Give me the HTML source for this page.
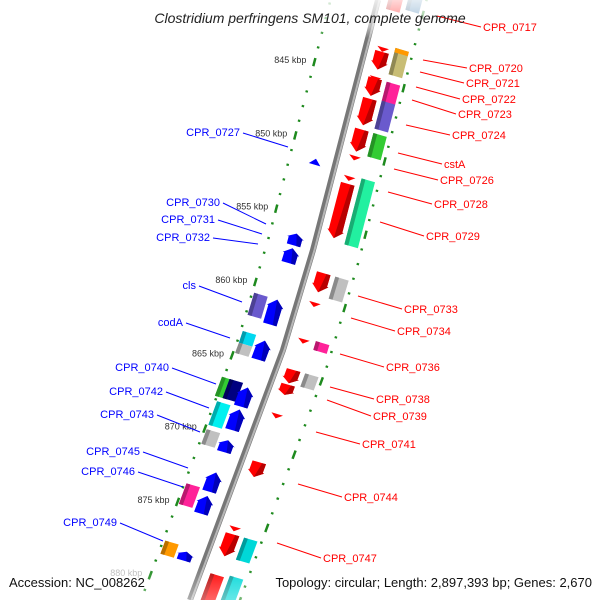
<!DOCTYPE html>
<html><head><meta charset="utf-8"><style>
html,body{margin:0;padding:0;background:#fff;overflow:hidden}
svg{display:block;font-family:"Liberation Sans","DejaVu Sans",sans-serif}
</style></head><body>
<svg id="map" width="600" height="600" viewBox="0 0 600 600">
<defs>
<linearGradient id="fadeTop" x1="0" y1="0" x2="0" y2="1"><stop offset="0" stop-color="#fff" stop-opacity="0.85"/><stop offset="0.7" stop-color="#fff" stop-opacity="0.5"/><stop offset="1" stop-color="#fff" stop-opacity="0"/></linearGradient>
<linearGradient id="fadeBot" x1="0" y1="0" x2="0" y2="1"><stop offset="0" stop-color="#fff" stop-opacity="0"/><stop offset="1" stop-color="#fff" stop-opacity="0.4"/></linearGradient>
<clipPath id="frame"><rect x="0" y="0" width="600" height="600"/></clipPath>
</defs>
<g clip-path="url(#frame)">
<g id="ticks"></g>
<g id="bb"></g>
<g id="genes"></g>
<rect x="0" y="0" width="600" height="38" fill="url(#fadeTop)"/>
<rect x="0" y="565" width="600" height="35" fill="url(#fadeBot)"/>
<g id="labels"></g>
</g>
<text x="310" y="23" text-anchor="middle" font-size="14" font-style="italic" fill="#222">Clostridium perfringens SM101, complete genome</text>
<text x="9" y="587" font-size="13" fill="#111">Accession: NC_008262</text>
<text x="592" y="587" text-anchor="end" font-size="13" fill="#111">Topology: circular; Length: 2,897,393 bp; Genes: 2,670</text>
</svg>
<script>
// ---- data ----
const tickKbp = [840, 845, 850, 855, 860, 865, 870, 875, 880];
const geneStart = [838.8,838.5,842.8,843.1,842.6,844.8,844.9,844.9,846.3,846.2,848.4,848.4,850.2,851.6,852.1,851.5,858.2,858.2,860.2,862.7,862.6,864.8,865.8,864.8,867.8,871.1,875.5,876.0,876.0,878.8,878.6,
  851.1,856.2,857.2,860.7,860.7,863.3,864.1,863.5,866.5,866.5,866.7,868.1,868.2,870.0,870.3,872.5,873.7,874.1,877.6,877.9];
const geneEnd = [840.3,840.0,843.1,844.3,844.4,845.1,846.1,846.3,848.1,848.1,849.9,850.0,850.5,851.9,855.8,856.0,859.5,859.7,860.5,863.0,863.2,865.7,866.5,865.7,868.1,872.1,875.8,877.5,877.5,880.8,880.7,
  851.5,857.0,858.2,862.2,862.4,864.1,864.8,864.8,867.8,867.8,868.0,869.7,869.6,871.0,871.1,873.8,875.1,875.3,878.5,878.5];
const geneLane = [17,36,17,17,36,17,17,36,17,36,17,36,17,17,17,36,17,36,17,17,36,17,17,36,17,17,17,17,36,17,36,
  -20,-20,-20,-37,-20,-37,-37,-20,-41,-33,-20,-37,-20,-37,-20,-20,-37,-20,-37,-20];
const geneShape = ["box","box","tri","arrow","box","tri","arrow","box","arrow","box","arrow","box","tri","tri","arrow","box","arrow","box","tri","tri","box","arrow","arrow","box","tri","arrow","tri","arrow","box","box","box",
  "tri","arrow","arrow","box","arrow","box","box","arrow","box","box","arrow","box","arrow","box","arrow","arrow","box","arrow","box","arrow"];
const geneColor = ["#ff0000","#4682b4","#ff0000","#ff0000","#c8bd75","#ff0000","#ff0000","#ff2299","#ff0000","#6a5acd","#ff0000","#33cc33","#ff0000","#ff0000","#ff0000","#22f0a0","#ff0000","#c0c0c0","#ff0000","#ff0000","#ff2299","#ff0000","#ff0000","#c0c0c0","#ff0000","#ff0000","#ff0000","#ff0000","#00d8d8","#ff0000","#00d8d8",
  "#0000ff","#0000ff","#0000ff","#6a5acd","#0000ff","#00d8f0","#c0c0c0","#0000ff","#33cc33","#000080","#0000ff","#00f0f0","#0000ff","#c0c0c0","#0000ff","#0000ff","#ff2299","#0000ff","#ff9900","#0000ff"];
const rightNames = ["CPR_0717","CPR_0720","CPR_0721","CPR_0722","CPR_0723","CPR_0724","cstA","CPR_0726","CPR_0728","CPR_0729","CPR_0733","CPR_0734","CPR_0736","CPR_0738","CPR_0739","CPR_0741","CPR_0744","CPR_0747"];
const rightLabelY = [31,72,87,103,118,139,168,184,208,240,313,335,371,403,420,448,501,562];
const rightLineStart = [[437,16],[423,60],[420,72],[416,87],[412,100],[406,125],[398,153],[394,169],[388,192],[380,222],[358,296],[351,318],[340,354],[330,387],[327,400],[316,432],[298,484],[277,543]];
const leftNames = ["CPR_0727","CPR_0730","CPR_0731","CPR_0732","cls","codA","CPR_0740","CPR_0742","CPR_0743","CPR_0745","CPR_0746","CPR_0749"];
const leftLabelX = [240,220,215,210,196,183,169,163,154,140,135,117];
const leftLabelY = [136,206,223,241,289,326,371,395,418,455,475,526];
const leftLineEnd = [[288,147],[266,224],[262,234],[258,244],[242,302],[230,338],[216,384],[209,408],[200,432],[188,468],[183,487],[163,541]];

// ---- geometry ----
const NS = "http://www.w3.org/2000/svg";
const bbPts = [[378,0],[313,250],[283,350],[190,600]];
function bx(y){
  for(let i=0;i<bbPts.length-1;i++){
    const a=bbPts[i],b=bbPts[i+1];
    if(y<=b[1]||i===bbPts.length-2){const t=(y-a[1])/(b[1]-a[1]);return a[0]+t*(b[0]-a[0]);}
  }
}
function yOf(k){return 75+(k-845)*14.66;}
const N=[0.96,0.28];
function pt(k,u){const y0=yOf(k);return [bx(y0)+u*N[0],y0+u*N[1]];}
function P(arr){return arr.map(p=>p[0].toFixed(1)+","+p[1].toFixed(1)).join(" ");}
function mk(tag,attrs,parent){const e=document.createElementNS(NS,tag);for(const k in attrs)e.setAttribute(k,attrs[k]);parent.appendChild(e);return e;}
function shade(c){
  const n=parseInt(c.slice(1),16);let r=n>>16,g=(n>>8)&255,b=n&255;
  return "rgb("+Math.round(r*0.72)+","+Math.round(g*0.72)+","+Math.round(b*0.72)+")";
}

// backbone
const bb=document.getElementById("bb");
const bbLine=mk("polyline",{points:P(bbPts),fill:"none",stroke:"#777","stroke-width":6},bb);


const bbHi=mk("polyline",{points:P(bbPts.map(p=>[p[0]+1.5,p[1]])),fill:"none",stroke:"#b8b8b8","stroke-width":2},bb);



// ticks
const tg=document.getElementById("ticks");
for(let k=837;k<=881;k++){
  [-46,47].forEach(u=>{
    const five=(k%5===0);
    const a=pt(k-(five?0.28:0.07),u),b=pt(k+(five?0.28:0.07),u);
    const d=mk("line",{x1:a[0],y1:a[1],x2:b[0],y2:b[1],stroke:"#1e8a1e","stroke-width":2.5},tg);
    
    
  });
}
tickKbp.forEach(k=>{
  const p=pt(k,-46);
  if(p[1]<30)return;
  const t=mk("text",{x:p[0]-8,y:p[1]+1,"text-anchor":"end","font-size":9,fill:(k>=880)?"#bbb":"#333"},tg);
  t.textContent=k+" kbp";
  
  
});

// genes
const gg=document.getElementById("genes");
for(let i=0;i<geneStart.length;i++){
  const k1=geneStart[i],k2=geneEnd[i],u=geneLane[i],c=geneColor[i],s=geneShape[i];
  const fwd=u>0; const w=s==="tri"?12:14; const hw=w/2;
  const g=mk("g",{},gg);
  
  
  let poly,side;
  if(s==="box"){
    poly=[pt(k1,u-hw),pt(k1,u+hw),pt(k2,u+hw),pt(k2,u-hw)];
    side=[pt(k1,u-hw),pt(k1,u-hw+4),pt(k2,u-hw+4),pt(k2,u-hw)];
  } else if(s==="tri"){
    if(fwd){poly=[pt(k1,u-hw),pt(k1,u+hw),pt(k2,u)];}
    else{poly=[pt(k2,u-hw),pt(k2,u+hw),pt(k1,u)];}
    side=null;
  } else {
    const hl=Math.min(0.5,(k2-k1)*0.4);const hh=hw+1.5;
    if(fwd){
      poly=[pt(k1,u-hw),pt(k1,u+hw),pt(k2-hl,u+hw),pt(k2-hl,u+hh),pt(k2,u),pt(k2-hl,u-hh),pt(k2-hl,u-hw)];
      side=[pt(k1,u+hw-4),pt(k1,u+hw),pt(k2-hl,u+hw),pt(k2-hl,u+hh),pt(k2,u)];
    } else {
      poly=[pt(k2,u-hw),pt(k2,u+hw),pt(k1+hl,u+hw),pt(k1+hl,u+hh),pt(k1,u),pt(k1+hl,u-hh),pt(k1+hl,u-hw)];
      side=[pt(k2,u+hw-4),pt(k2,u+hw),pt(k1+hl,u+hw),pt(k1+hl,u+hh),pt(k1,u)];
    }
  }
  const m=mk("polygon",{points:P(poly),fill:c},g);
  
  
  if(side){
    const sd=mk("polygon",{points:P(side),fill:shade(c)},g);
    
    
  }
  if(i===4){
    const cap=mk("polygon",{points:P([pt(k1,u-hw),pt(k1,u+hw),pt(k1+0.3,u+hw),pt(k1+0.3,u-hw)]),fill:"#ff9900"},g);
    
    
  }
}

// labels
const lg=document.getElementById("labels");
rightNames.forEach((n,i)=>{
  const s=rightLineStart[i],ty=rightLabelY[i],tx=s[0]+46;
  const l=mk("line",{x1:s[0],y1:s[1],x2:tx-2,y2:ty-4,stroke:"#ff0000","stroke-width":1},lg);
  
  
  const t=mk("text",{x:tx,y:ty,"font-size":11,fill:"#ff0000"},lg);
  t.textContent=n;
  
  
});
leftNames.forEach((n,i)=>{
  const tx=leftLabelX[i],ty=leftLabelY[i],e=leftLineEnd[i];
  const l=mk("line",{x1:tx+3,y1:ty-3,x2:e[0],y2:e[1],stroke:"#0000ff","stroke-width":1},lg);
  
  
  const t=mk("text",{x:tx,y:ty,"text-anchor":"end","font-size":11,fill:"#0000ff"},lg);
  t.textContent=n;
  
  
});
</script>
</body></html>
